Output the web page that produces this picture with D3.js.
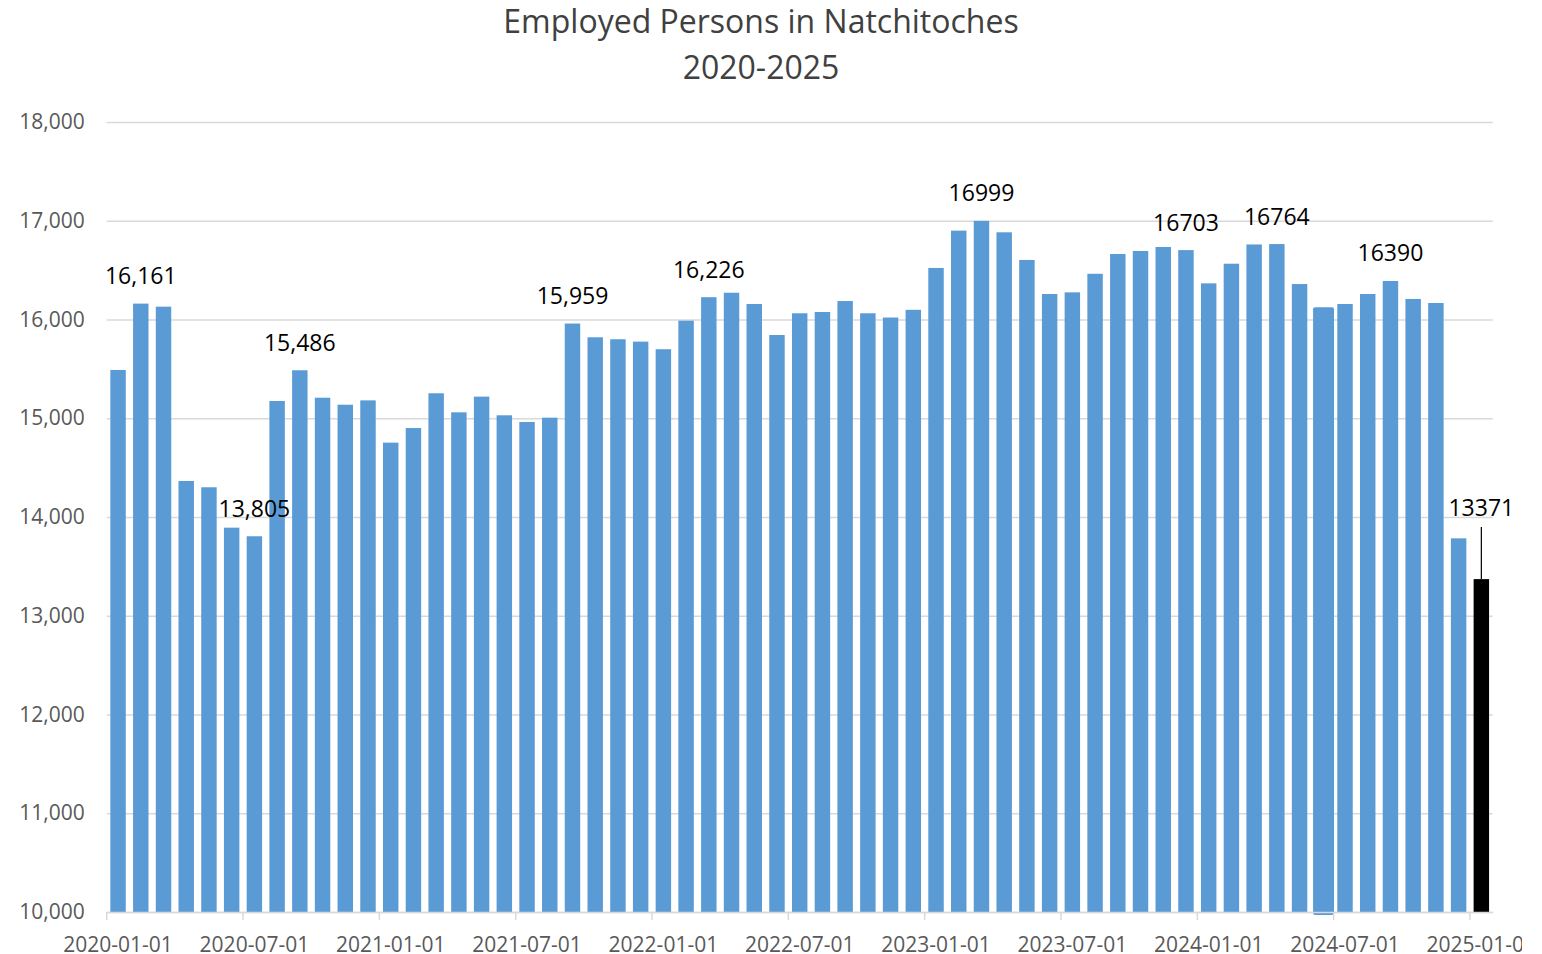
<!DOCTYPE html>
<html>
<head>
<meta charset="utf-8">
<script src="https://cdn.jsdelivr.net/npm/d3@7"></script>
<style>
  body { margin: 0; background: #fff; }
  svg { display: block; font-family: "Open Sans", sans-serif; }
</style>
</head>
<body>
<div id="chart"></div>
<script>
// categories: one bar per month, Jan 2020 .. Jan 2025
var months = d3.utcMonth.range(new Date(Date.UTC(2020, 0, 1)), new Date(Date.UTC(2025, 1, 1)));

// employed persons
var employed = [
    15489, 16161, 16130, 14365, 14301, 13892, 13805, 15175, 15486, 15208, 15137, 15181,
    14753, 14901, 15253, 15060, 15219, 15030, 14962, 15006, 15959, 15820, 15800, 15776,
    15699, 15988, 16226, 16271, 16157, 15843, 16063, 16076, 16187, 16063, 16020, 16098,
    16522, 16900, 16999, 16883, 16603, 16258, 16275, 16463, 16663, 16694, 16734, 16703,
    16366, 16565, 16760, 16764, 16359, 16124, 16157, 16258, 16390, 16208, 16167, 13784,
    13371
];

// data labels shown on some bars
var labelMonths = ["2020-02", "2020-07", "2020-09", "2021-09", "2022-03", "2023-03", "2023-12", "2024-04", "2024-09", "2025-01"];
var labelTexts = ["16,161", "13,805", "15,486", "15,959", "16,226", "16999", "16703", "16764", "16390", "13371"];

var yTicks = [10000, 11000, 12000, 13000, 14000, 15000, 16000, 17000, 18000];

var data = months.map(function(m, i) {
    return { month: m, key: d3.utcFormat("%Y-%m")(m), value: employed[i] };
});

var W = 1522, H = 954;
var plotLeft = 106.7, plotRight = 1492.7, plotTop = 122, plotBottom = 912;

var svg = d3.select("#chart").append("svg")
    .attr("width", W)
    .attr("height", H);

var xScale = d3.scaleBand()
    .domain(data.map(function(d) { return d.key; }))
    .range([plotLeft, plotRight])
    .paddingInner(0.32)
    .paddingOuter(0.16);

var yScale = d3.scaleLinear()
    .domain([10000, 18000])
    .range([plotBottom, plotTop]);

//Title
var title = svg.append("text")
    .attr("text-anchor", "middle")
    .attr("fill", "#404040")
    .attr("font-size", 32);
title.append("tspan").attr("x", 761).attr("y", 33).text("Employed Persons in Natchitoches");
title.append("tspan").attr("x", 761).attr("y", 79).text("2020-2025");

//Y-Axis with gridlines
var yAxis = svg.append("g")
    .attr("transform", "translate(" + plotLeft + ",0)")
    .call(d3.axisLeft(yScale)
        .tickValues(yTicks)
        .tickFormat(d3.format(","))
        .tickSizeInner(-(plotRight - plotLeft))
        .tickSizeOuter(0)
        .tickPadding(22));
yAxis.select(".domain").remove();
yAxis.selectAll("line").attr("stroke", "#d9d9d9").attr("stroke-width", 1.5);
yAxis.selectAll("text")
    .attr("fill", "#595959")
    .attr("font-size", 21)
    .attr("font-family", "Open Sans, sans-serif");

//Bars
var lastKey = data[data.length - 1].key;
var oddKey = "2024-06";
svg.selectAll("rect.bar")
    .data(data)
    .enter().append("rect")
    .attr("class", "bar")
    .attr("x", function(d) {
        return d.key === oddKey ? xScale(d.key) - 1.5 : xScale(d.key);
    })
    .attr("y", function(d) { return yScale(d.value); })
    .attr("width", function(d) {
        return d.key === oddKey ? xScale.bandwidth() + 5.5 : xScale.bandwidth();
    })
    .attr("height", function(d) {
        return plotBottom - yScale(d.value) + (d.key === oddKey ? 3 : 0);
    })
    .attr("rx", function(d) { return d.key === oddKey ? 2 : 0; })
    .attr("fill", function(d) { return d.key === lastKey ? "#000000" : "#5b9bd5"; });

//X-Axis
var step = xScale.step();
var xAxis = svg.append("g")
    .attr("transform", "translate(0," + plotBottom + ")")
    .call(d3.axisBottom(xScale)
        .tickValues(data.filter(function(d) { return d.month.getUTCMonth() % 6 === 0; }).map(function(d) { return d.key; }))
        .tickFormat(function(k) { return k + "-01"; })
        .tickSizeInner(8)
        .tickSizeOuter(0)
        .tickPadding(17));
xAxis.select(".domain").attr("stroke", "#d9d9d9").attr("stroke-width", 1.5);
xAxis.selectAll(".tick line")
    .attr("x1", -step / 2)
    .attr("x2", -step / 2)
    .attr("stroke", "#d9d9d9")
    .attr("stroke-width", 1.5);
xAxis.selectAll("text")
    .attr("fill", "#595959")
    .attr("font-size", 21)
    .attr("font-family", "Open Sans, sans-serif");

//Data labels
var labelData = labelMonths.map(function(k, i) {
    var d = data.find(function(e) { return e.key === k; });
    return { key: k, value: d.value, text: labelTexts[i], lifted: k === lastKey };
});

svg.selectAll("text.label")
    .data(labelData)
    .enter().append("text")
    .attr("class", "label")
    .attr("x", function(d) { return xScale(d.key) + xScale.bandwidth() / 2; })
    .attr("y", function(d) { return yScale(d.value) - (d.lifted ? 63 : 19.5); })
    .attr("text-anchor", "middle")
    .attr("font-size", 23)
    .attr("fill", "#000")
    .text(function(d) { return d.text; });

// leader line for the lifted label
svg.selectAll("line.leader")
    .data(labelData.filter(function(d) { return d.lifted; }))
    .enter().append("line")
    .attr("class", "leader")
    .attr("x1", function(d) { return xScale(d.key) + xScale.bandwidth() / 2; })
    .attr("x2", function(d) { return xScale(d.key) + xScale.bandwidth() / 2; })
    .attr("y1", function(d) { return yScale(d.value) - 52; })
    .attr("y2", function(d) { return yScale(d.value); })
    .attr("stroke", "#000")
    .attr("stroke-width", 1.2);
</script>
</body>
</html>
